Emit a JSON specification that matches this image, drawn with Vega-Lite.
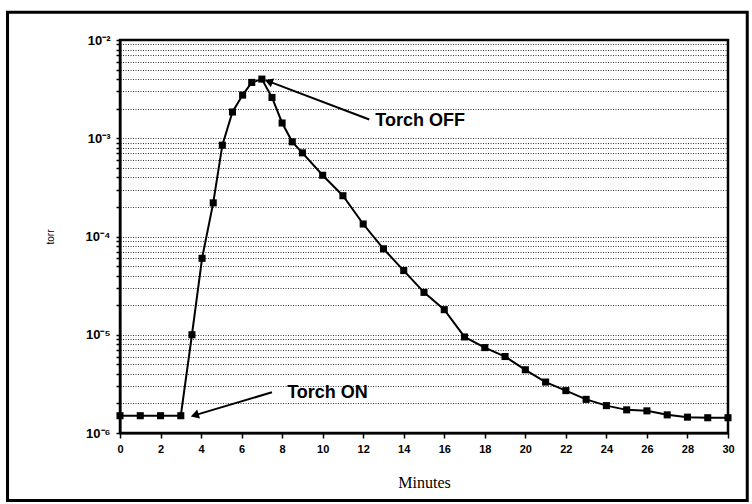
{
  "$schema": "https://vega.github.io/schema/vega-lite/v6.json",
  "width": 608,
  "height": 393,
  "autosize": {"type": "none"},
  "padding": {"left": 120, "top": 40, "right": 24, "bottom": 71},
  "background": "white",
  "config": {
    "view": {"stroke": "black", "strokeWidth": 2.5},
    "font": "Liberation Sans"
  },
  "datasets": {
    "curve": [
      {"t": 0, "p": 1.5e-6}, {"t": 1, "p": 1.5e-6}, {"t": 2, "p": 1.5e-6}, {"t": 3, "p": 1.5e-6},
      {"t": 3.55, "p": 1.0e-5}, {"t": 4.05, "p": 6.0e-5}, {"t": 4.6, "p": 2.2e-4}, {"t": 5.05, "p": 8.5e-4},
      {"t": 5.55, "p": 1.85e-3}, {"t": 6.05, "p": 2.75e-3}, {"t": 6.5, "p": 3.7e-3}, {"t": 7.0, "p": 4.0e-3},
      {"t": 7.5, "p": 2.6e-3}, {"t": 8, "p": 1.43e-3}, {"t": 8.5, "p": 9.2e-4}, {"t": 9, "p": 7.1e-4},
      {"t": 10, "p": 4.2e-4}, {"t": 11, "p": 2.6e-4}, {"t": 12, "p": 1.34e-4}, {"t": 13, "p": 7.5e-5},
      {"t": 14, "p": 4.5e-5}, {"t": 15, "p": 2.7e-5}, {"t": 16, "p": 1.8e-5}, {"t": 17, "p": 9.5e-6},
      {"t": 18, "p": 7.4e-6}, {"t": 19, "p": 6.0e-6}, {"t": 20, "p": 4.4e-6}, {"t": 21, "p": 3.3e-6},
      {"t": 22, "p": 2.7e-6}, {"t": 23, "p": 2.2e-6}, {"t": 24, "p": 1.9e-6}, {"t": 25, "p": 1.72e-6},
      {"t": 26, "p": 1.68e-6}, {"t": 27, "p": 1.53e-6}, {"t": 28, "p": 1.45e-6}, {"t": 29, "p": 1.43e-6},
      {"t": 30, "p": 1.43e-6}
    ],
    "notes": [
      {"label": "Torch OFF", "tailT": 12.3, "tailP": 1.55e-3, "headT": 7.4, "headP": 3.75e-3, "textT": 12.6, "textP": 1.5e-3},
      {"label": "Torch ON", "tailT": 7.5, "tailP": 2.6e-6, "headT": 3.75, "headP": 1.53e-6, "textT": 8.25, "textP": 2.56e-6}
    ]
  },
  "layer": [
    {
      "data": {"name": "curve"},
      "mark": {"type": "line", "color": "black", "strokeWidth": 2,
        "point": {"shape": "square", "size": 50, "filled": true, "color": "black"}},
      "encoding": {
        "x": {
          "field": "t", "type": "quantitative",
          "scale": {"domain": [0, 30], "nice": false},
          "axis": {
            "title": "Minutes",
            "titleFont": "Liberation Serif", "titleFontSize": 16, "titleFontWeight": "normal", "titlePadding": 20,
            "values": [0,1,2,3,4,5,6,7,8,9,10,11,12,13,14,15,16,17,18,19,20,21,22,23,24,25,26,27,28,29,30],
            "labelExpr": "datum.value % 2 == 0 ? datum.value : ''",
            "labelFont": "Liberation Sans", "labelFontWeight": "bold", "labelFontSize": 11, "labelColor": "black",
            "labelPadding": 5, "tickSize": 5, "tickColor": "black", "tickWidth": 1.5,
            "domainColor": "black", "domainWidth": 2, "grid": false, "labelFlush": false
          }
        },
        "y": {
          "field": "p", "type": "quantitative",
          "scale": {"type": "log", "domain": [1e-6, 1e-2], "nice": false},
          "axis": {
            "title": "torr", "titleFontSize": 10, "titleFontWeight": "normal", "titlePadding": 30,
            "values": [1e-6, 2e-6, 3e-6, 4e-6, 5e-6, 6e-6, 7e-6, 8e-6, 9e-6,
                       1e-5, 2e-5, 3e-5, 4e-5, 5e-5, 6e-5, 7e-5, 8e-5, 9e-5,
                       1e-4, 2e-4, 3e-4, 4e-4, 5e-4, 6e-4, 7e-4, 8e-4, 9e-4,
                       1e-3, 2e-3, 3e-3, 4e-3, 5e-3, 6e-3, 7e-3, 8e-3, 9e-3, 1e-2],
            "labelExpr": "datum.value == 0.01 ? '10⁻²' : datum.value == 0.001 ? '10⁻³' : datum.value == 0.0001 ? '10⁻⁴' : datum.value == 0.00001 ? '10⁻⁵' : datum.value == 0.000001 ? '10⁻⁶' : ''",
            "labelFont": "Liberation Sans", "labelFontWeight": "bold", "labelFontSize": 13, "labelColor": "black",
            "labelPadding": 6, "tickSize": 4, "tickColor": "black", "tickWidth": 1.5,
            "domainColor": "black", "domainWidth": 2,
            "grid": true, "gridColor": "black", "gridDash": [1, 1.5], "gridOpacity": 0.8, "gridWidth": 1.2
          }
        }
      }
    },
    {
      "data": {"values": [{}]},
      "mark": {"type": "rect", "color": "black", "fillOpacity": 0, "stroke": "black", "strokeWidth": 3, "clip": false},
      "encoding": {
        "x": {"datum": -5.55, "type": "quantitative"},
        "x2": {"datum": 30.95},
        "y": {"datum": 0.0192, "type": "quantitative"},
        "y2": {"datum": 2.05e-7}
      }
    },
    {
      "data": {"name": "notes"},
      "mark": {"type": "rule", "color": "black", "strokeWidth": 2},
      "encoding": {
        "x": {"field": "tailT", "type": "quantitative"},
        "y": {"field": "tailP", "type": "quantitative"},
        "x2": {"field": "headT"},
        "y2": {"field": "headP"}
      }
    },
    {
      "data": {"name": "notes"},
      "transform": [{"filter": "datum.label == 'Torch OFF'"}],
      "mark": {"type": "point", "shape": "triangle", "filled": true, "color": "black", "size": 90, "angle": 291, "opacity": 1},
      "encoding": {
        "x": {"field": "headT", "type": "quantitative"},
        "y": {"field": "headP", "type": "quantitative"}
      }
    },
    {
      "data": {"name": "notes"},
      "transform": [{"filter": "datum.label == 'Torch ON'"}],
      "mark": {"type": "point", "shape": "triangle", "filled": true, "color": "black", "size": 90, "angle": 253, "opacity": 1},
      "encoding": {
        "x": {"field": "headT", "type": "quantitative"},
        "y": {"field": "headP", "type": "quantitative"}
      }
    },
    {
      "data": {"name": "notes"},
      "mark": {"type": "text", "align": "left", "baseline": "middle", "font": "Liberation Sans", "fontWeight": "bold", "fontSize": 18, "color": "black"},
      "encoding": {
        "x": {"field": "textT", "type": "quantitative"},
        "y": {"field": "textP", "type": "quantitative"},
        "text": {"field": "label"}
      }
    }
  ]
}
